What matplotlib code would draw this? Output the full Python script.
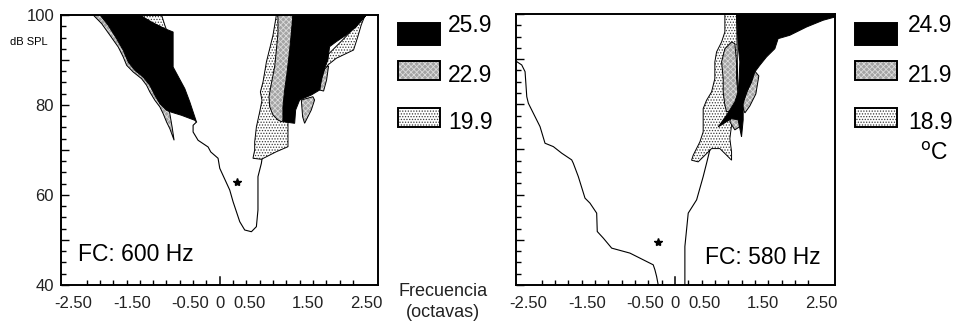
"""
Tuning curves at three temperatures, FC 600 Hz and FC 580 Hz panels.
"""
import numpy as np
import matplotlib.pyplot as plt
from matplotlib.patches import Polygon, Rectangle
from matplotlib.ticker import FixedLocator

plt.rcParams["font.family"] = ["Liberation Sans", "DejaVu Sans"]
plt.rcParams["hatch.linewidth"] = 0.6

# ── Data: left panel (FC 600 Hz) ──────────────────────────────────────────────
L_gray_a_x = [-2.16, -2.015, -1.874, -1.733, -1.647, -1.589, -1.477, -1.334, -1.249, -1.193,
              -1.107, -1.022, -0.966, -0.908, -0.852, -0.779, -0.813, -0.852, -0.993, -1.448, -1.959]
L_gray_a_y = [100, 98.07, 95.49, 92.89, 90.67, 88.82, 87.33, 85.84, 84.38, 82.89,
              81.04, 79.56, 78.07, 76.22, 74.73, 72.16, 75.11, 78.07, 85.84, 93.27, 100]

L_dot_a_x = [-1.397, -0.993, -0.937, -0.908, -1.193]
L_dot_a_y = [100, 100, 97.71, 96.67, 98.44]

L_black_a_x = [-2.044, -1.903, -1.76, -1.647, -1.562, -1.448, -1.307, -1.193, -1.107, -1.022,
               -0.908, -0.835, -0.652, -0.426, -0.397, -0.511, -0.596, -0.796, -0.796, -0.937,
               -1.164, -1.363]
L_black_a_y = [100, 97.71, 94.73, 92.16, 89.56, 87.71, 86.22, 84.38, 82.16, 80.29,
               78.82, 78.44, 77.71, 76.6, 76.22, 80.67, 83.62, 88.44, 96.22, 96.96,
               98.44, 100]

L_dot_b_x = [0.966, 0.937, 0.908, 0.852, 0.796, 0.767, 0.738, 0.693, 0.721, 0.681, 0.625,
             0.596, 0.596, 0.567, 0.71, 0.966, 1.164, 1.164, 1.249]
L_dot_b_y = [100, 97.71, 95.49, 92.51, 89.56, 87.33, 85.11, 82.89, 81.04, 78.44, 75.11,
             71.78, 70.0, 68.16, 67.93, 69.62, 70.73, 77.78, 100]

L_gray_b_x = [0.993, 0.993, 0.966, 0.937, 0.881, 0.84, 0.852, 0.908, 0.993, 1.051, 1.158, 1.249]
L_gray_b_y = [100, 95.93, 92.22, 88.51, 84.82, 81.84, 79.62, 77.78, 76.67, 76.29, 77.1, 100]

L_gray_c_x = [1.789, 1.857, 1.823, 1.772, 1.704, 1.733]
L_gray_c_y = [88.2, 88.67, 85.56, 83.1, 83.33, 85.56]

L_gray_d_x = [1.392, 1.59, 1.618, 1.562, 1.448, 1.414]
L_gray_d_y = [81.11, 81.84, 81.11, 78.89, 75.93, 77.4]

L_dot_c_x = [2.47, 2.414, 2.356, 2.283, 1.988, 1.845, 1.76, 1.84, 2.13, 2.5]
L_dot_c_y = [99.62, 97.78, 95.18, 92.22, 90.38, 88.89, 87.4, 91.1, 94.9, 100]

L_black_b_x = [1.249, 1.221, 1.193, 1.147, 1.107, 1.078, 1.078, 1.278, 1.295, 1.363, 1.562,
               1.704, 1.733, 1.789, 1.845, 1.874, 1.988, 2.158, 2.329, 2.499]
L_black_b_y = [100, 95.93, 92.22, 87.04, 83.33, 79.62, 76.29, 75.93, 78.89, 81.11, 82.22,
               83.33, 85.56, 88.16, 90.0, 92.96, 94.07, 95.56, 97.4, 100]

L_curve_x = [-0.397, -0.455, -0.455, -0.37, -0.199, -0.153, -0.029, 0.0, 0.17, 0.227, 0.341,
             0.426, 0.54, 0.625, 0.652, 0.652, 0.71, 0.72]
L_curve_y = [76.22, 75.49, 74.0, 72.16, 70.67, 69.56, 68.16, 65.93, 61.11, 58.51, 54.07,
             52.22, 51.84, 52.96, 56.67, 64.07, 67.04, 67.93]

L_star = (0.30, 62.8)

# ── Data: right panel (FC 580 Hz) ─────────────────────────────────────────────
R_curve_a_x = [-2.697, -2.612, -2.555, -2.526, -2.499, -2.414, -2.3, -2.215, -2.073, -1.93,
               -1.76, -1.733, -1.647, -1.533, -1.448, -1.334, -1.324, -1.221, -1.078, -0.767,
               -0.482, -0.37, -0.341, -0.312, -0.285]
R_curve_a_y = [89.45, 88.72, 87.23, 81.7, 80.24, 78.03, 75.07, 71.39, 70.64, 69.18,
               67.7, 66.97, 64.0, 59.23, 58.12, 55.91, 51.84, 50.38, 48.16, 47.06,
               45.2, 44.47, 43.36, 41.88, 40.04]

R_curve_b_x = [0.17, 0.17, 0.227, 0.37, 0.482, 0.54, 0.596]
R_curve_b_y = [40.0, 48.52, 55.91, 58.85, 64.0, 66.97, 69.91]

R_dot_x = [0.852, 0.852, 0.796, 0.71, 0.681, 0.681, 0.625, 0.54, 0.482, 0.482, 0.482, 0.426,
           0.312, 0.284, 0.397, 0.54, 0.625, 0.767, 0.881, 0.966, 0.966, 0.937, 0.966,
           1.078, 1.051]
R_dot_y = [100, 96.02, 93.81, 91.59, 89.38, 85.69, 82.74, 80.91, 79.05, 76.84, 73.89, 71.68,
           68.74, 67.63, 67.26, 69.09, 70.2, 70.2, 68.74, 67.63, 69.47, 72.41, 75.38,
           78.32, 100]

R_gray_a_x = [0.966, 0.852, 0.796, 0.823, 0.823, 0.852, 0.881, 1.051, 1.078, 1.051, 1.051, 1.022]
R_gray_a_y = [93.81, 92.32, 89.38, 85.69, 82.74, 79.8, 78.32, 79.05, 82.01, 85.69, 89.38, 93.43]

R_gray_b_x = [0.966, 1.107, 1.124, 1.022, 0.937]
R_gray_b_y = [78.32, 78.32, 75.22, 74.34, 76.1]

R_gray_c_x = [1.346, 1.431, 1.38, 1.278, 1.193, 1.141, 1.244, 1.312]
R_gray_c_y = [87.61, 86.28, 82.3, 79.65, 78.1, 79.87, 83.19, 85.4]

R_black_x = [1.051, 2.72, 2.72, 2.526, 2.244, 1.959, 1.76, 1.704, 1.562, 1.448, 1.363, 1.307,
             1.221, 1.164, 1.164, 1.136, 1.078, 0.966, 0.738, 0.881, 1.022, 1.078, 1.095,
             1.107, 1.078]
R_black_y = [100, 100, 99.3, 98.61, 97.12, 95.29, 94.54, 92.32, 90.49, 88.65, 87.17, 84.96,
             82.74, 80.16, 76.55, 72.79, 76.55, 76.84, 75.0, 77.59, 80.53, 82.74, 85.69,
             89.38, 93.08]

R_star = (-0.28, 49.6)

# ── Labels ────────────────────────────────────────────────────────────────────
x_tick_vals = [-2.5, -1.5, -0.5, 0, 0.5, 1.5, 2.5]
x_tick_labels = ["-2.50", "-1.50", "-0.50", "0", "0.50", "1.50", "2.50"]
y_tick_vals = [40, 50, 60, 70, 80, 90, 100]
y_tick_labels = ["40", "", "60", "", "80", "", "100"]
left_temps = ["25.9", "22.9", "19.9"]
right_temps = ["24.9", "21.9", "18.9"]

STYLES = {
    "black": dict(facecolor="black", hatch=None, edgecolor="black"),
    "gray": dict(facecolor="#a4a4a4", hatch="xxxxxx", edgecolor="#dcdcdc"),
    "dot": dict(facecolor="white", hatch="......", edgecolor="#3a3a3a"),
}


def region(ax, xs, ys, kind):
    pts = np.column_stack([xs, ys])
    ax.add_patch(Polygon(pts, closed=True, linewidth=0, **STYLES[kind]))
    ax.add_patch(Polygon(pts, closed=True, fill=False, edgecolor="black", linewidth=0.7))


def setup_axes(ax, show_ylabels):
    ax.set_xlim(-2.71, 2.70)
    ax.set_ylim(40, 100)
    for s in ax.spines.values():
        s.set_linewidth(1.4)
    ax.set_xticks(x_tick_vals)
    ax.set_xticklabels(x_tick_labels, fontsize=12, color="#222222")
    ax.xaxis.set_minor_locator(FixedLocator([k * 2.5 / 11 for k in range(-11, 12)]))
    ax.tick_params(axis="x", which="major", length=0, pad=8)
    ax.tick_params(axis="x", which="minor", direction="in", length=3.5, width=1.0)
    ax.axvline(0, ymin=0, ymax=0.028, color="black", lw=1.1)
    ax.set_yticks(y_tick_vals)
    if show_ylabels:
        ax.set_yticklabels(y_tick_labels, fontsize=12, color="#222222")
    else:
        ax.set_yticklabels([])
    ax.yaxis.set_minor_locator(FixedLocator(np.arange(40, 100.1, 2.5)))
    ax.tick_params(axis="y", which="major", direction="in", length=6, width=1.0, pad=5)
    ax.tick_params(axis="y", which="minor", direction="in", length=3.5, width=1.0)


fig = plt.figure(figsize=(9.63, 3.24), dpi=100)
axL = fig.add_axes([0.0633, 0.1204, 0.3292, 0.8333])
axR = fig.add_axes([0.5358, 0.1204, 0.3313, 0.8364])

# left panel regions
region(axL, L_gray_a_x, L_gray_a_y, "gray")
region(axL, L_dot_a_x, L_dot_a_y, "dot")
region(axL, L_black_a_x, L_black_a_y, "black")
region(axL, L_dot_b_x, L_dot_b_y, "dot")
region(axL, L_gray_b_x, L_gray_b_y, "gray")
region(axL, L_gray_c_x, L_gray_c_y, "gray")
region(axL, L_gray_d_x, L_gray_d_y, "gray")
region(axL, L_dot_c_x, L_dot_c_y, "dot")
region(axL, L_black_b_x, L_black_b_y, "black")
axL.plot(L_curve_x, L_curve_y, color="black", lw=0.8)
axL.plot(*L_star, marker="*", color="black", markersize=6)
axL.text(-2.42, 46.7, "FC: 600 Hz", fontsize=16.5, va="center", ha="left")
setup_axes(axL, True)

# right panel regions
region(axR, R_dot_x, R_dot_y, "dot")
region(axR, R_gray_a_x, R_gray_a_y, "gray")
region(axR, R_gray_b_x, R_gray_b_y, "gray")
region(axR, R_gray_c_x, R_gray_c_y, "gray")
region(axR, R_black_x, R_black_y, "black")
axR.plot(R_curve_a_x, R_curve_a_y, color="black", lw=0.8)
axR.plot(R_curve_b_x, R_curve_b_y, color="black", lw=0.8)
axR.plot(*R_star, marker="*", color="black", markersize=6)
axR.text(0.51, 46.0, "FC: 580 Hz", fontsize=16.5, va="center", ha="left")
setup_axes(axR, False)
axR.set_xlim(-2.71, 2.73)

# legends (figure fraction)
box_rows = [(0.861, 0.068), (0.753, 0.059), (0.608, 0.059)]
kinds = ["black", "gray", "dot"]
text_y = [0.920, 0.766, 0.621]
for bx, tx, temps in [(0.4133, 0.4652, left_temps), (0.8879, 0.9429, right_temps)]:
    for (by, bh), kind, ty, t in zip(box_rows, kinds, text_y, temps):
        st = STYLES[kind]
        fig.add_artist(Rectangle((bx, by), 0.0436, bh, transform=fig.transFigure,
                                 linewidth=0, **st))
        fig.add_artist(Rectangle((bx, by), 0.0436, bh, transform=fig.transFigure,
                                 fill=False, edgecolor="black", linewidth=1.4))
        fig.text(tx, ty, t, fontsize=16.5, va="center", ha="left")

fig.text(0.955, 0.525, "$^{\\mathrm{o}}$C", fontsize=16.5, va="center", ha="left")
fig.text(0.0498, 0.870, "dB SPL", fontsize=8, va="center", ha="right")
fig.text(0.460, 0.099, "Frecuencia", fontsize=13, va="center", ha="center", color="#222222")
fig.text(0.460, 0.034, "(octavas)", fontsize=13, va="center", ha="center", color="#222222")

fig.savefig("out.png", dpi=100)
